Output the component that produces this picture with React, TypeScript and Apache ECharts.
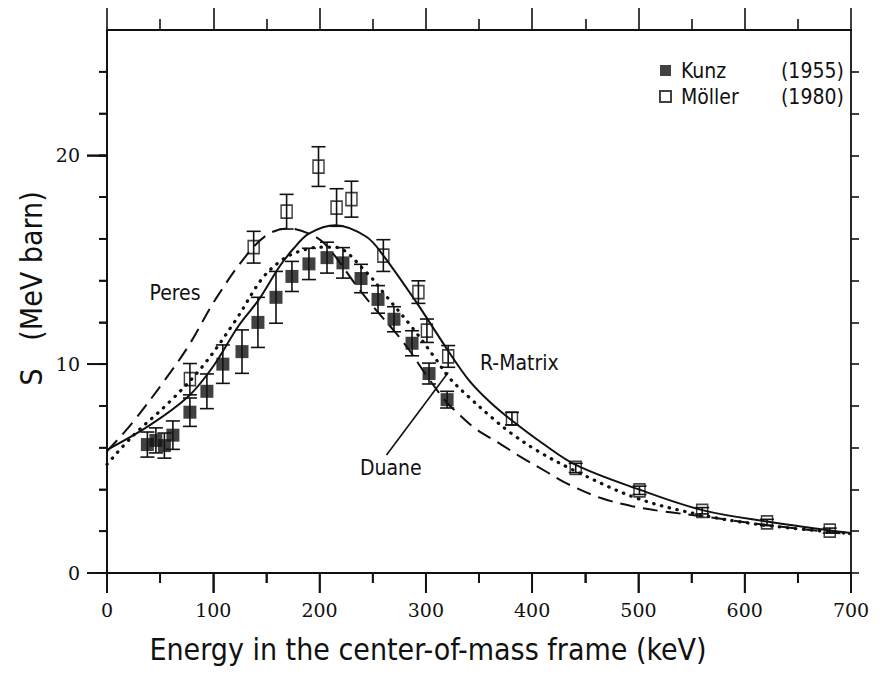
import React, { useEffect, useRef } from "react";
import * as echarts from "echarts";

// ---- Data ----
const kunzE = [38, 46, 54, 62, 78, 94, 109, 127, 142, 159, 174, 190, 207, 222, 239, 255, 270, 287, 303, 320];
const kunzS = [6.15, 6.35, 6.1, 6.6, 7.7, 8.7, 10.0, 10.6, 12.0, 13.2, 14.2, 14.8, 15.1, 14.85, 14.1, 13.1, 12.15, 11.0, 9.55, 8.3];
const kunzErr = [0.6, 0.6, 0.6, 0.68, 0.68, 0.83, 0.92, 1.04, 1.2, 1.24, 0.72, 0.75, 0.74, 0.73, 0.68, 0.66, 0.6, 0.6, 0.5, 0.4];

const mollerE = [78, 138, 169, 199, 216, 230, 260, 293, 301, 321, 381, 441, 501, 560, 621, 680];
const mollerS = [9.28, 15.6, 17.3, 19.46, 17.5, 17.9, 15.2, 13.45, 11.6, 10.37, 7.39, 5.03, 3.96, 2.98, 2.42, 2.03];
const mollerErr = [0.75, 0.76, 0.83, 0.95, 0.9, 0.86, 0.76, 0.54, 0.56, 0.52, 0.3, 0.22, 0.2, 0.15, 0.15, 0.12];

// R-Matrix (solid)
const rmatE = [0, 40, 77, 100, 124, 143, 162, 175, 190, 215, 244, 260, 291, 322, 341, 360, 381, 410, 442, 501, 561, 621, 700];
const rmatS = [5.9, 7.07, 8.48, 9.9, 11.85, 13.1, 14.65, 15.5, 16.25, 16.65, 16.1, 15.2, 12.97, 10.56, 9.2, 8.2, 7.3, 6.2, 5.15, 3.99, 3.0, 2.47, 1.91];

// Duane (dotted)
const duaneE = [0, 24, 58, 90, 121, 146, 165, 181, 200, 214, 244, 262, 288, 310, 322, 341, 363, 380, 405, 438, 498, 558, 617, 696];
const duaneS = [5.2, 6.55, 8.15, 9.9, 12.1, 14.1, 15.0, 15.4, 15.6, 15.6, 14.4, 13.3, 11.7, 10.2, 9.35, 8.4, 7.4, 6.7, 5.85, 4.95, 3.59, 2.79, 2.3, 1.9];

// Peres (dashed)
const peresE = [0, 24, 55, 77, 102, 131, 151, 170, 190, 206, 237, 253, 270, 284, 300, 319, 328, 347, 371, 388, 415, 432, 464, 494, 523, 560, 620, 700];
const peresS = [5.83, 7.2, 9.28, 10.9, 13.1, 15.2, 16.2, 16.5, 16.25, 15.7, 13.6, 12.6, 11.6, 10.7, 9.5, 8.2, 7.75, 6.9, 6.15, 5.6, 4.8, 4.3, 3.6, 3.2, 2.95, 2.72, 2.3, 1.85];

const legendNames = ["Kunz", "Möller"];
const legendYears = ["(1955)", "(1980)"];

// tick positions: [value, kind] kind 1 = major, 0 = minor
const xMajorTicks = [0, 100, 200, 300, 400, 500, 600, 700];
const xMinorTicks = [50, 150, 250, 350, 450, 550, 650];
const yMajor = [0, 10, 20];
const yMinor = [0, 2, 4, 6, 8, 10, 12, 14, 16, 18, 20, 22, 24];

// annotation labels in data coords
const annoText = ["Peres", "R-Matrix", "Duane"];
const annoE = [64, 351, 238];
const annoS = [13.4, 10.05, 5.03];
const pointerFrom = [263, 5.65];
const pointerTo = [321, 9.6];

const xTitle = "Energy in the center-of-mass frame (keV)";
const yTitleSymbol = "S";
const yTitleUnit = "(MeV barn)";

const SANS = "'Liberation Sans Narrow', 'DejaVu Sans Condensed', 'Liberation Sans', sans-serif";
const SERIF = "'DejaVu Serif', serif";
const INK = "#111";

const zip = (a: number[], b: number[]) => a.map((v, i) => [v, b[i]]);
const zip3 = (a: number[], b: number[], c: number[]) => a.map((v, i) => [v, b[i], c[i]]);

function errRender(params: any, api: any) {
  const x = api.value(0);
  const y = api.value(1);
  const e = api.value(2);
  const top = api.coord([x, y + e]);
  const bot = api.coord([x, y - e]);
  const hw = 7;
  const st = { stroke: INK, lineWidth: 1.6 };
  return {
    type: "group",
    children: [
      { type: "line", shape: { x1: top[0], y1: top[1], x2: bot[0], y2: bot[1] }, style: st },
      { type: "line", shape: { x1: top[0] - hw, y1: top[1], x2: top[0] + hw, y2: top[1] }, style: st },
      { type: "line", shape: { x1: bot[0] - hw, y1: bot[1], x2: bot[0] + hw, y2: bot[1] }, style: st },
    ],
  };
}

// bottom x ticks: value = [E, 0, length]
function xTickRender(params: any, api: any) {
  const p = api.coord([api.value(0), 0]);
  const len = api.value(2);
  return {
    type: "line",
    shape: { x1: p[0], y1: p[1], x2: p[0], y2: p[1] + len },
    style: { stroke: INK, lineWidth: 1.8 },
  };
}
// left y ticks: value = [0, S, length]
function yTickRender(params: any, api: any) {
  const p = api.coord([0, api.value(1)]);
  const len = api.value(2);
  return {
    type: "line",
    shape: { x1: p[0] - len, y1: p[1], x2: p[0], y2: p[1] },
    style: { stroke: INK, lineWidth: 1.8 },
  };
}

export default function App() {
  const ref = useRef<HTMLDivElement>(null);
  useEffect(() => {
    document.body.style.margin = "0";
    if (!ref.current) return;
    const chart = echarts.init(ref.current, null, { renderer: "svg" });
    const lineStyle = { color: INK, width: 1.8 };
    const axisLineFree = { show: true, onZero: false, lineStyle };
    const tickStyle = { color: INK, width: 1.6 };
    const xBase = { type: "value", min: 0, max: 700, interval: 100, splitLine: { show: false } };
    const yBase = { type: "value", min: 0, max: 26, splitLine: { show: false } };

    const xTickData = [
      ...xMajorTicks.map((v) => [v, 0, 20]),
      ...xMinorTicks.map((v) => [v, 0, 10]),
    ];
    const yTickData = [
      ...yMinor.map((v) => [0, v, 8]),
      ...yMajor.map((v) => [0, v, 20]),
    ];

    const option: any = {
      animation: false,
      backgroundColor: "#fff",
      grid: { left: 107, right: 29, top: 30, bottom: 103 },
      legend: {
        data: legendNames,
        orient: "vertical",
        left: 654,
        top: 55,
        itemWidth: 11,
        itemHeight: 11,
        itemGap: 5,
        textStyle: {
          color: INK,
          fontFamily: SANS,
          fontSize: 21,
          rich: {
            n: { width: 100, fontSize: 21, fontFamily: SANS, color: INK, padding: [0, 0, 0, 5] },
            y: { fontSize: 21, fontFamily: SANS, color: INK },
          },
        },
        formatter: (name: string) => `{n|${name}}{y|${legendYears[legendNames.indexOf(name)]}}`,
      },
      xAxis: [
        {
          ...xBase,
          position: "bottom",
          axisLine: axisLineFree,
          axisTick: { show: true, inside: false, length: 20, lineStyle: tickStyle },
          minorTick: { show: true, splitNumber: 2, length: 10, lineStyle: tickStyle },
          axisLabel: { show: true, margin: 27, color: INK, fontFamily: SERIF, fontSize: 19 },
        },
        {
          ...xBase,
          position: "top",
          axisLine: axisLineFree,
          axisTick: { show: true, inside: false, length: 22, lineStyle: tickStyle },
          minorTick: { show: true, splitNumber: 2, length: 11, lineStyle: tickStyle },
          axisLabel: { show: false },
        },
      ],
      yAxis: [
        {
          ...yBase,
          position: "left",
          axisLine: axisLineFree,
          axisTick: { show: true, inside: false, length: 8, customValues: yMinor, lineStyle: tickStyle },
          axisLabel: { show: true, customValues: yMajor, margin: 27, color: INK, fontFamily: SERIF, fontSize: 19 },
        },
        {
          ...yBase,
          position: "left",
          axisLine: axisLineFree,
          axisTick: { show: true, inside: false, length: 20, customValues: yMajor, lineStyle: tickStyle },
          axisLabel: { show: false },
        },
        {
          ...yBase,
          position: "right",
          axisLine: axisLineFree,
          axisTick: { show: true, inside: false, length: 8, customValues: yMinor, lineStyle: tickStyle },
          axisLabel: { show: false },
        },
      ],
      series: [
        {
          name: "xTicks",
          type: "custom",
          renderItem: xTickRender,
          data: xTickData,
          clip: false,
          silent: true,
          z: 10,
        },
        {
          name: "yTicks",
          type: "custom",
          renderItem: yTickRender,
          data: yTickData,
          clip: false,
          silent: true,
          z: 10,
        },
        {
          name: "R-Matrix",
          type: "line",
          data: zip(rmatE, rmatS),
          smooth: 0.35,
          showSymbol: false,
          lineStyle: { color: INK, width: 2 },
          z: 2,
        },
        {
          name: "Duane",
          type: "line",
          data: zip(duaneE, duaneS),
          smooth: 0.35,
          showSymbol: false,
          lineStyle: { color: INK, width: 3.2, type: [0.5, 7.5], cap: "round" },
          z: 2,
        },
        {
          name: "Peres",
          type: "line",
          data: zip(peresE, peresS),
          smooth: 0.35,
          showSymbol: false,
          lineStyle: { color: INK, width: 2, type: [15, 8] },
          z: 2,
        },
        {
          name: "KunzErr",
          type: "custom",
          renderItem: errRender,
          data: zip3(kunzE, kunzS, kunzErr),
          z: 3,
        },
        {
          name: "MollerErr",
          type: "custom",
          renderItem: errRender,
          data: zip3(mollerE, mollerS, mollerErr),
          z: 3,
        },
        {
          name: "Kunz",
          type: "scatter",
          data: zip(kunzE, kunzS),
          symbol: "rect",
          symbolSize: 13,
          itemStyle: { color: INK, borderColor: INK, borderWidth: 0 },
          z: 4,
        },
        {
          name: "Möller",
          type: "scatter",
          data: zip(mollerE, mollerS),
          symbol: "rect",
          symbolSize: [11, 13],
          itemStyle: { color: "rgba(255,255,255,0)", borderColor: INK, borderWidth: 1.6 },
          z: 4,
        },
      ],
    };
    chart.setOption(option);

    const px = (e: number, s: number) => chart.convertToPixel({ xAxisIndex: 0, yAxisIndex: 0 }, [e, s]) as number[];
    const textEls: any[] = annoText.map((t, i) => {
      const p = px(annoE[i], annoS[i]);
      return {
        type: "text",
        x: p[0],
        y: p[1],
        style: {
          text: t,
          fill: INK,
          font: `21px ${SANS}`,
          align: i === 0 ? "center" : "left",
          verticalAlign: "middle",
        },
      };
    });
    const a = px(pointerFrom[0], pointerFrom[1]);
    const b = px(pointerTo[0], pointerTo[1]);
    chart.setOption({
      graphic: [
        ...textEls,
        { type: "line", shape: { x1: a[0], y1: a[1], x2: b[0], y2: b[1] }, style: { stroke: INK, lineWidth: 1.6 } },
        {
          type: "text",
          x: 31,
          y: 377,
          rotation: Math.PI / 2,
          style: { text: yTitleSymbol, fill: INK, font: `30px ${SANS}`, align: "center", verticalAlign: "middle" },
        },
        {
          type: "text",
          x: 31,
          y: 266,
          rotation: Math.PI / 2,
          style: { text: yTitleUnit, fill: INK, font: `30px ${SANS}`, align: "center", verticalAlign: "middle" },
        },
        {
          type: "text",
          x: 428,
          y: 649,
          style: { text: xTitle, fill: INK, font: `30px ${SANS}`, align: "center", verticalAlign: "middle" },
        },
      ],
    });
    return () => chart.dispose();
  }, []);
  return <div ref={ref} style={{ width: 880, height: 676 }} />;
}
